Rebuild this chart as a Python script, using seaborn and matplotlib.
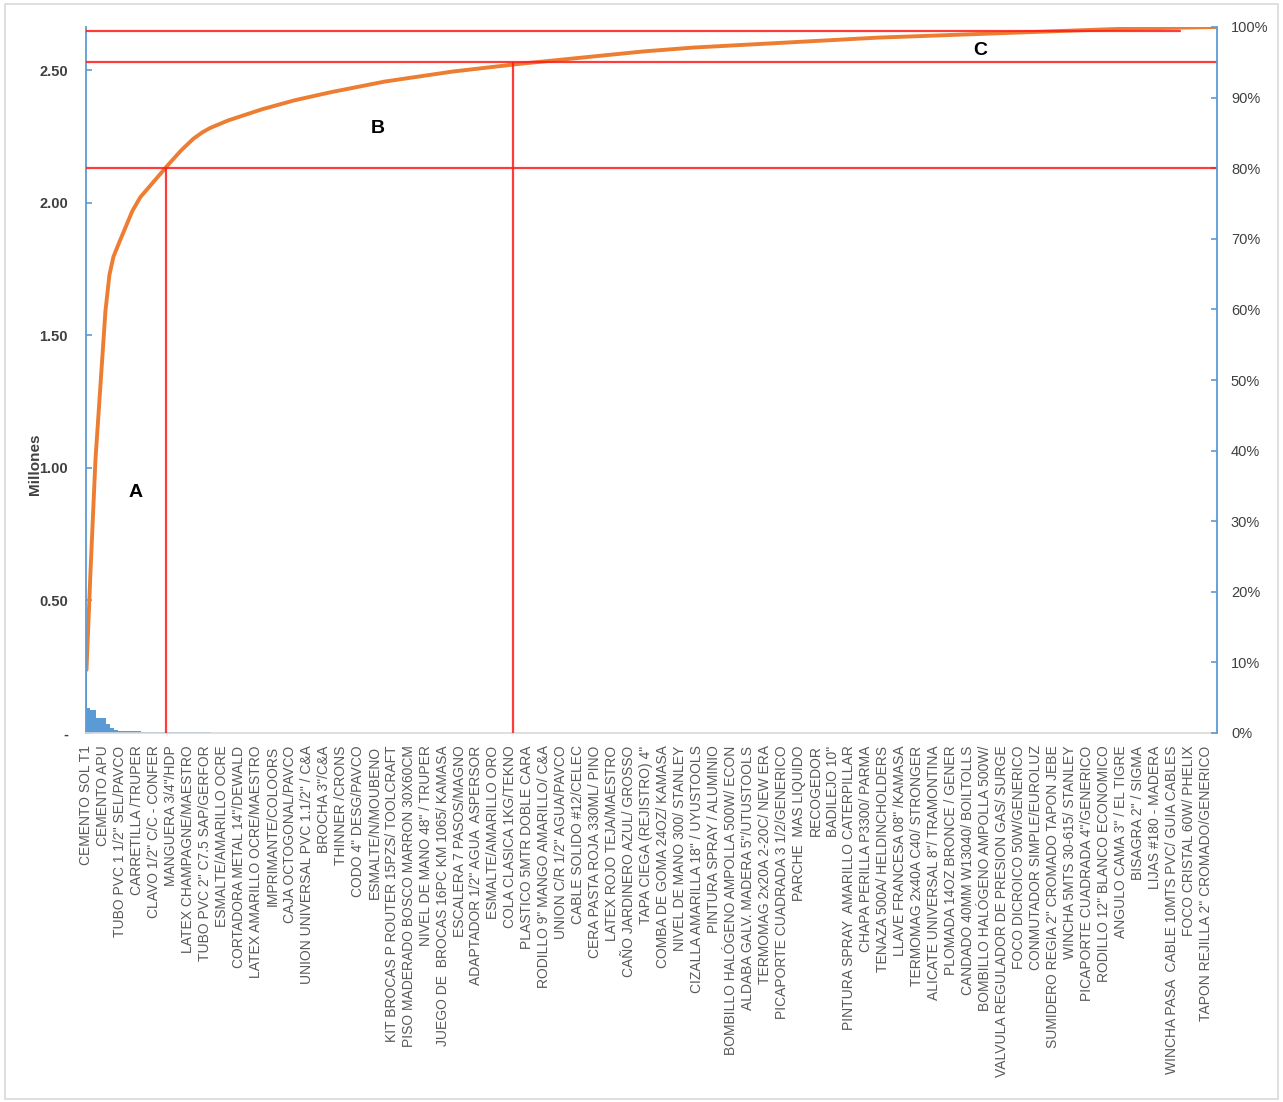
import numpy as np
import pandas as pd
import seaborn as sns
import matplotlib
matplotlib.use("Agg")
import matplotlib.pyplot as plt
from matplotlib.patches import Rectangle
from matplotlib.ticker import PercentFormatter, FixedLocator

# ---------------- data ----------------
# Sales per item (millions), run-length encoded: count of items and value per item
seg_counts = [1, 3, 6, 10, 4, 4, 4, 15, 8,
              26, 14, 13, 9, 8, 17, 33, 33, 34, 56, 67, 63, 127, 50, 183, 247, 99]
seg_values = [0.238, 0.095, 0.085, 0.056, 0.034, 0.017, 0.0095, 0.009, 0.0065,
              0.0044, 0.0042, 0.0036, 0.0027, 0.0021, 0.0016, 0.00125, 0.00105, 0.00085,
              0.00075, 0.00056, 0.00044, 0.00038, 0.0003, 0.000205, 0.000138, 0.00007]

label_step = 17  # one product name shown every 17 items
item_labels = [
    "CEMENTO SOL T1", "CEMENTO APU", "TUBO PVC 1 1/2\" SEL/PAVCO", "CARRETILLA /TRUPER",
    "CLAVO 1/2\" C/C - CONFER", "MANGUERA 3/4\"/HDP", "LATEX CHAMPAGNE/MAESTRO",
    "TUBO PVC 2\" C7.5 SAP/GERFOR", "ESMALTE/AMARILLO OCRE", "CORTADORA METAL 14\"/DEWALD",
    "LATEX AMARILLO OCRE/MAESTRO", "IMPRIMANTE/COLOORS", "CAJA OCTOGONAL/PAVCO",
    "UNION UNIVERSAL PVC 1.1/2\" / C&A", "BROCHA 3\"/C&A", "THINNER /CRONS",
    "CODO 4\" DESG/PAVCO", "ESMALTE/N/MOUBENO", "KIT BROCAS P ROUTER 15PZS/ TOOLCRAFT",
    "PISO MADERADO BOSCO MARRON 30X60CM", "NIVEL DE MANO 48\" / TRUPER",
    "JUEGO DE  BROCAS 16PC KM 1065/ KAMASA", "ESCALERA 7 PASOS/MAGNO",
    "ADAPTADOR 1/2\" AGUA  ASPERSOR", "ESMALTE/AMARILLO ORO", "COLA CLASICA 1KG/TEKNO",
    "PLASTICO 5MTR DOBLE CARA", "RODILLO 9\" MANGO AMARILLO/ C&A", "UNION C/R 1/2\" AGUA/PAVCO",
    "CABLE SOLIDO #12/CELEC", "CERA PASTA ROJA 330ML/ PINO", "LATEX ROJO TEJA/MAESTRO",
    "CAÑO JARDINERO AZUL/ GROSSO", "TAPA CIEGA (REJISTRO) 4\"", "COMBA DE GOMA 24OZ/ KAMASA",
    "NIVEL DE MANO 300/ STANLEY", "CIZALLA AMARILLA 18\" / UYUSTOOLS", "PINTURA SPRAY / ALUMINIO",
    "BOMBILLO HALÓGENO AMPOLLA 500W/ ECON", "ALDABA GALV. MADERA 5\"/UTUSTOOLS",
    "TERMOMAG 2x20A 2-20C/ NEW ERA", "PICAPORTE CUADRADA 3 1/2/GENERICO", "PARCHE  MAS LIQUIDO",
    "RECOGEDOR", "BADILEJO 10\"", "PINTURA SPRAY  AMARILLO CATERPILLAR",
    "CHAPA PERILLA P3300/ PARMA", "TENAZA 500A/ HELDINCHOLDERS", "LLAVE FRANCESA 08\" /KAMASA",
    "TERMOMAG 2x40A C40/ STRONGER", "ALICATE UNIVERSAL 8\"/ TRAMONTINA",
    "PLOMADA 14OZ BRONCE / GENER", "CANDADO 40MM W13040/ BOILTOLLS",
    "BOMBILLO HALÓGENO AMPOLLA 500W/", "VALVULA REGULADOR DE PRESION GAS/ SURGE",
    "FOCO DICROICO 50W/GENERICO", "CONMUTADOR SIMPLE/EUROLUZ",
    "SUMIDERO REGIA 2\" CROMADO TAPON JEBE", "WINCHA 5MTS 30-615/ STANLEY",
    "PICAPORTE CUADRADA 4\"/GENERICO", "RODILLO 12\" BLANCO ECONOMICO", "ANGULO CAMA 3\" / EL TIGRE",
    "BISAGRA 2\" / SIGMA", "LIJAS #180 - MADERA", "WINCHA PASA  CABLE 10MTS PVC/ GUIA CABLES",
    "FOCO CRISTAL 60W/ PHELIX", "TAPON REJILLA 2\" CROMADO/GENERICO",
]

# reference lines (cumulative share) and the items where the cut lines are drawn
cut_shares = [0.80, 0.95, 0.994]
cut_items = [80, 428]
zone_names = ["A", "B", "C"]
zone_items = [49, 292, 896]
zone_heights = [0.906, 2.283, 2.577]

# ---------------- build table ----------------
values = np.repeat(seg_values, seg_counts)
n_items = len(values)
cum = np.cumsum(values)
total = cum[-1]
df = pd.DataFrame({"item": np.arange(n_items), "value": values, "cum": cum})

# ---------------- style ----------------
sns.set_style("white")
plt.rcParams["font.family"] = ["Liberation Sans", "DejaVu Sans"]

W, H = 1283, 1102
fig = plt.figure(figsize=(W / 100, H / 100), dpi=100)
left, right, top, bottom = 86, 1217, 27, 733
ax = fig.add_axes([left / W, 1 - bottom / H, (right - left) / W, (bottom - top) / H])

blue = "#5B9BD5"
orange = "#ED7D31"
red = "#FF1A1A"

sns.barplot(data=df, x="item", y="value", color=blue, width=1.0, saturation=1,
            linewidth=0, ax=ax)
sns.lineplot(data=df, x="item", y="cum", color=orange, linewidth=2.8, ax=ax)

ax.set_xlim(-0.5, n_items - 0.5)
ax.set_ylim(0, total)

# x tick labels
pos = np.arange(len(item_labels)) * label_step
ax.xaxis.set_major_locator(FixedLocator(pos))
ax.set_xticklabels(item_labels, rotation=90, fontsize=10, color="#595959")
ax.tick_params(axis="x", length=0, pad=9)
ax.set_xlabel("")

# left y axis
ax.set_yticks([0, 0.5, 1.0, 1.5, 2.0, 2.5])
ax.set_yticklabels(["-", "0.50", "1.00", "1.50", "2.00", "2.50"], fontsize=10.5,
                   color="#404040", fontweight="bold")
ax.tick_params(axis="y", direction="in", length=4, width=1.2, color=blue, pad=13)
ax.set_ylabel("Millones", fontsize=11, fontweight="bold", color="#404040")
ax.yaxis.set_label_coords(-0.039, 0.38)

for s in ["top", "right"]:
    ax.spines[s].set_visible(False)
ax.spines["left"].set_color(blue)
ax.spines["left"].set_linewidth(1.3)
ax.spines["bottom"].set_color("#D9D9D9")
ax.spines["bottom"].set_linewidth(1.2)

# right axis (cumulative %)
ax2 = ax.twinx()
ax2.set_ylim(0, 1)
ax2.set_yticks(np.linspace(0, 1, 11))
ax2.yaxis.set_major_formatter(PercentFormatter(1.0, decimals=0))
ax2.tick_params(axis="y", direction="in", length=4, width=1.2, color=blue, pad=10,
                labelsize=10.5, labelcolor="#404040")
for s in ["top", "left", "bottom"]:
    ax2.spines[s].set_visible(False)
ax2.spines["right"].set_color(blue)
ax2.spines["right"].set_linewidth(1.3)

# Pareto cut lines
ax2.axhline(cut_shares[0], color=red, lw=1.6, alpha=0.85)
ax2.axhline(cut_shares[1], color=red, lw=1.6, alpha=0.85)
ax2.axhline(cut_shares[2], xmax=0.967, color=red, lw=1.6, alpha=0.85)
ax2.vlines(cut_items, 0, cut_shares[:2], color=red, lw=1.6, alpha=0.85)

for name, xi, yi in zip(zone_names, zone_items, zone_heights):
    ax.text(xi, yi, name, fontsize=14, color="black", ha="center", va="center",
            fontweight="bold", family=["Liberation Sans Narrow", "Liberation Sans", "DejaVu Sans"])

fig.patches.append(Rectangle((0.004, 0.003), 0.992, 0.993, transform=fig.transFigure,
                             fill=False, edgecolor="#D9D9D9", lw=1.2))

fig.savefig("out.png", dpi=100)
